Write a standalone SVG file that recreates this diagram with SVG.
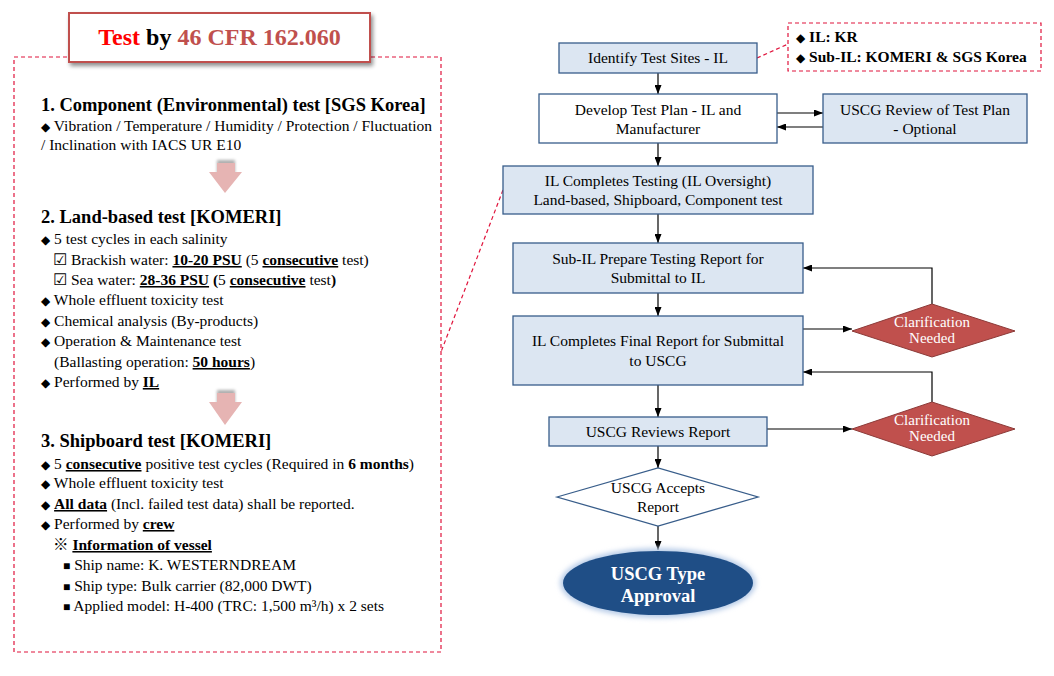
<svg xmlns="http://www.w3.org/2000/svg" width="1054" height="676" viewBox="0 0 1054 676">
<defs>
<style>
text{font-family:"Liberation Serif","DejaVu Serif","Noto Sans CJK KR",serif;fill:#000}
.h{font-size:18.5px;font-weight:bold}
.b{font-size:15.5px}
.bd{font-weight:bold}
.u{font-weight:bold;text-decoration:underline}
.d{font-size:12px}
.box{fill:#DCE6F2;stroke:#385D8A;stroke-width:1.3}
.wbox{fill:#FFFFFF;stroke:#385D8A;stroke-width:1.3}
.ft{font-size:15.5px;text-anchor:middle}
.ct{font-size:15px;text-anchor:middle;fill:#FFFFFF}
.dia{fill:#C0504D;stroke:#8C3A38;stroke-width:1}
.con{stroke:#000;stroke-width:1.2;fill:none}
.arr{marker-end:url(#ah)}
.dash{stroke:#E0143C;stroke-width:1.2;stroke-dasharray:4 3;fill:none}
.pink{fill:#E6B4B3}
</style>
<marker id="ah" markerUnits="userSpaceOnUse" markerWidth="9" markerHeight="7" refX="9" refY="3.5" orient="auto">
<path d="M0,0 L9,3.5 L0,7 z" fill="#000"/>
</marker>
<filter id="shadow" x="-10%" y="-20%" width="125%" height="150%">
<feGaussianBlur in="SourceAlpha" stdDeviation="2"/>
<feOffset dx="2" dy="3" result="o"/>
<feComponentTransfer><feFuncA type="linear" slope="0.45"/></feComponentTransfer>
<feMerge><feMergeNode/><feMergeNode in="SourceGraphic"/></feMerge>
</filter>
<filter id="blur" x="-20%" y="-20%" width="140%" height="140%">
<feGaussianBlur stdDeviation="1.5"/>
</filter>
<filter id="glow" x="-20%" y="-30%" width="140%" height="160%">
<feGaussianBlur stdDeviation="2.5"/>
</filter>
</defs>
<rect width="1054" height="676" fill="#FFFFFF"/>

<!-- Left panel -->
<g id="left-panel">
<rect x="14" y="57" width="427" height="595" class="dash"/>
<g id="title" filter="url(#shadow)">
<rect x="69" y="13" width="301" height="49" fill="#FFFFFF" stroke="#C0504D" stroke-width="2"/>
</g>
<text x="219.5" y="45" text-anchor="middle" style="font-size:24px;font-weight:bold"><tspan fill="#FF0000">Test</tspan> by <tspan fill="#C0504D">46 CFR 162.060</tspan></text>

<g id="sec1">
<text x="41" y="111" class="h">1. Component (Environmental) test [SGS Korea]</text>
<text x="41" y="131" class="b"><tspan class="d">◆</tspan> Vibration / Temperature / Humidity / Protection / Fluctuation</text>
<text x="41" y="150" class="b">/ Inclination with IACS UR E10</text>
</g>

<g id="arrow1">
<rect x="217" y="160" width="18" height="14" fill="#8C8C8C" filter="url(#blur)" opacity="0.7"/>
<path class="pink" d="M217,163 L235,163 L235,172 L242,172 L225,193 L209,172 L217,172 z"/>
</g>

<g id="sec2">
<text x="41" y="223" class="h">2. Land-based test [KOMERI]</text>
<text x="41" y="244" class="b"><tspan class="d">◆</tspan> 5 test cycles in each salinity</text>
<text x="53" y="265" class="b">☑ Brackish water: <tspan class="u">10-20 PSU</tspan> (5 <tspan class="u">consecutive</tspan> test)</text>
<text x="53" y="285" class="b">☑ Sea water: <tspan class="u">28-36 PSU</tspan><tspan class="bd"> (</tspan>5 <tspan class="u">consecutive</tspan> test<tspan class="bd">)</tspan></text>
<text x="41" y="305" class="b"><tspan class="d">◆</tspan> Whole effluent toxicity test</text>
<text x="41" y="326" class="b"><tspan class="d">◆</tspan> Chemical analysis (By-products)</text>
<text x="41" y="346" class="b"><tspan class="d">◆</tspan> Operation &amp; Maintenance test</text>
<text x="54" y="367" class="b">(Ballasting operation: <tspan class="u">50 hours</tspan>)</text>
<text x="41" y="387" class="b"><tspan class="d">◆</tspan> Performed by <tspan class="u">IL</tspan></text>
</g>

<g id="arrow2">
<rect x="217" y="390" width="18" height="14" fill="#8C8C8C" filter="url(#blur)" opacity="0.7"/>
<path class="pink" d="M217,393 L235,393 L235,402 L242,402 L225,425 L209,402 L217,402 z"/>
</g>

<g id="sec3">
<text x="41" y="447" class="h">3. Shipboard test [KOMERI]</text>
<text x="41" y="469" class="b"><tspan class="d">◆</tspan> 5 <tspan class="u">consecutive</tspan> positive test cycles (Required in <tspan class="bd">6 months</tspan>)</text>
<text x="41" y="488" class="b"><tspan class="d">◆</tspan> Whole effluent toxicity test</text>
<text x="41" y="509" class="b"><tspan class="d">◆</tspan> <tspan class="u">All data</tspan> (Incl. failed test data) shall be reported.</text>
<text x="41" y="529" class="b"><tspan class="d">◆</tspan> Performed by <tspan class="u">crew</tspan></text>
<text x="53" y="550" class="b"><tspan class="bd">※ </tspan><tspan class="u">Information of vessel</tspan></text>
<text x="63" y="570" class="b"><tspan class="d">■</tspan> Ship name: K. WESTERNDREAM</text>
<text x="63" y="591" class="b"><tspan class="d">■</tspan> Ship type: Bulk carrier (82,000 DWT)</text>
<text x="63" y="611" class="b"><tspan class="d">■</tspan> Applied model: H-400 (TRC: 1,500 m³/h) x 2 sets</text>
</g>
</g>

<!-- Connectors -->
<g id="connectors">
<line class="con arr" x1="658" y1="73" x2="658" y2="94"/>
<line class="con arr" x1="658" y1="143" x2="658" y2="166"/>
<line class="con arr" x1="658" y1="214" x2="658" y2="243"/>
<line class="con arr" x1="658" y1="293" x2="658" y2="316"/>
<line class="con arr" x1="658" y1="385" x2="658" y2="417"/>
<line class="con arr" x1="658" y1="446" x2="658" y2="468"/>
<line class="con arr" x1="658" y1="526" x2="658" y2="550"/>
<line class="con arr" x1="777" y1="113" x2="823" y2="113"/>
<line class="con arr" x1="823" y1="127" x2="777" y2="127"/>
<line class="con arr" x1="803" y1="329" x2="852" y2="329"/>
<polyline class="con arr" points="932,304 932,268 803,268"/>
<line class="con arr" x1="767" y1="429" x2="852" y2="429"/>
<polyline class="con arr" points="932,402 932,372 803,372"/>
<line class="dash" x1="757" y1="58" x2="788" y2="44"/>
<line class="dash" x1="503" y1="190" x2="441" y2="352"/>
</g>

<!-- Flowchart nodes -->
<g id="il-note">
<rect x="788" y="23" width="253" height="48" fill="#FFFFFF" class="dash"/>
<text x="796" y="42" style="font-size:15.5px;font-weight:bold"><tspan class="d">◆</tspan> IL: KR</text>
<text x="796" y="62" style="font-size:15.5px;font-weight:bold"><tspan class="d">◆</tspan> Sub-IL: KOMERI &amp; SGS Korea</text>
</g>

<g id="identify">
<rect x="559" y="43" width="198" height="30" class="box"/>
<text x="658" y="63" class="ft">Identify Test Sites - IL</text>
</g>

<g id="develop">
<rect x="539" y="94" width="238" height="49" class="wbox"/>
<text x="658" y="115" class="ft">Develop Test Plan - IL and</text>
<text x="658" y="134" class="ft">Manufacturer</text>
</g>

<g id="review-plan">
<rect x="823" y="94" width="204" height="49" class="box"/>
<text x="925" y="115" class="ft">USCG Review of Test Plan</text>
<text x="925" y="134" class="ft">- Optional</text>
</g>

<g id="completes-testing">
<rect x="503" y="166" width="310" height="48" class="box"/>
<text x="658" y="186" class="ft">IL Completes Testing (IL Oversight)</text>
<text x="658" y="205" class="ft">Land-based, Shipboard, Component test</text>
</g>

<g id="sub-il-report">
<rect x="513" y="243" width="290" height="50" class="box"/>
<text x="658" y="264" class="ft">Sub-IL Prepare Testing Report for</text>
<text x="658" y="283" class="ft">Submittal to IL</text>
</g>

<g id="final-report">
<rect x="513" y="316" width="290" height="69" class="box"/>
<text x="658" y="346" class="ft">IL Completes Final Report for Submittal</text>
<text x="658" y="366" class="ft">to USCG</text>
</g>

<g id="clarification-1">
<polygon points="852,331 932,304 1015,331 932,357" class="dia"/>
<text x="932" y="327" class="ct">Clarification</text>
<text x="932" y="343" class="ct">Needed</text>
</g>

<g id="reviews-report">
<rect x="549" y="417" width="218" height="29" class="box"/>
<text x="658" y="437" class="ft">USCG Reviews Report</text>
</g>

<g id="clarification-2">
<polygon points="852,429 932,402 1015,429 932,456" class="dia"/>
<text x="932" y="425" class="ct">Clarification</text>
<text x="932" y="441" class="ct">Needed</text>
</g>

<g id="accepts">
<polygon points="557,497 658,468 758,497 658,526" fill="#FFFFFF" stroke="#385D8A" stroke-width="1.3"/>
<text x="658" y="493" class="ft">USCG Accepts</text>
<text x="658" y="512" class="ft">Report</text>
</g>

<g id="type-approval">
<ellipse cx="658" cy="583" rx="98" ry="35" fill="#B9CDE8" filter="url(#glow)"/>
<ellipse cx="658" cy="583" rx="95" ry="32" fill="#1F4E86"/>
<text x="658" y="580" text-anchor="middle" style="font-size:18.5px;font-weight:bold;fill:#FFFFFF">USCG Type</text>
<text x="658" y="602" text-anchor="middle" style="font-size:18.5px;font-weight:bold;fill:#FFFFFF">Approval</text>
</g>
</svg>
